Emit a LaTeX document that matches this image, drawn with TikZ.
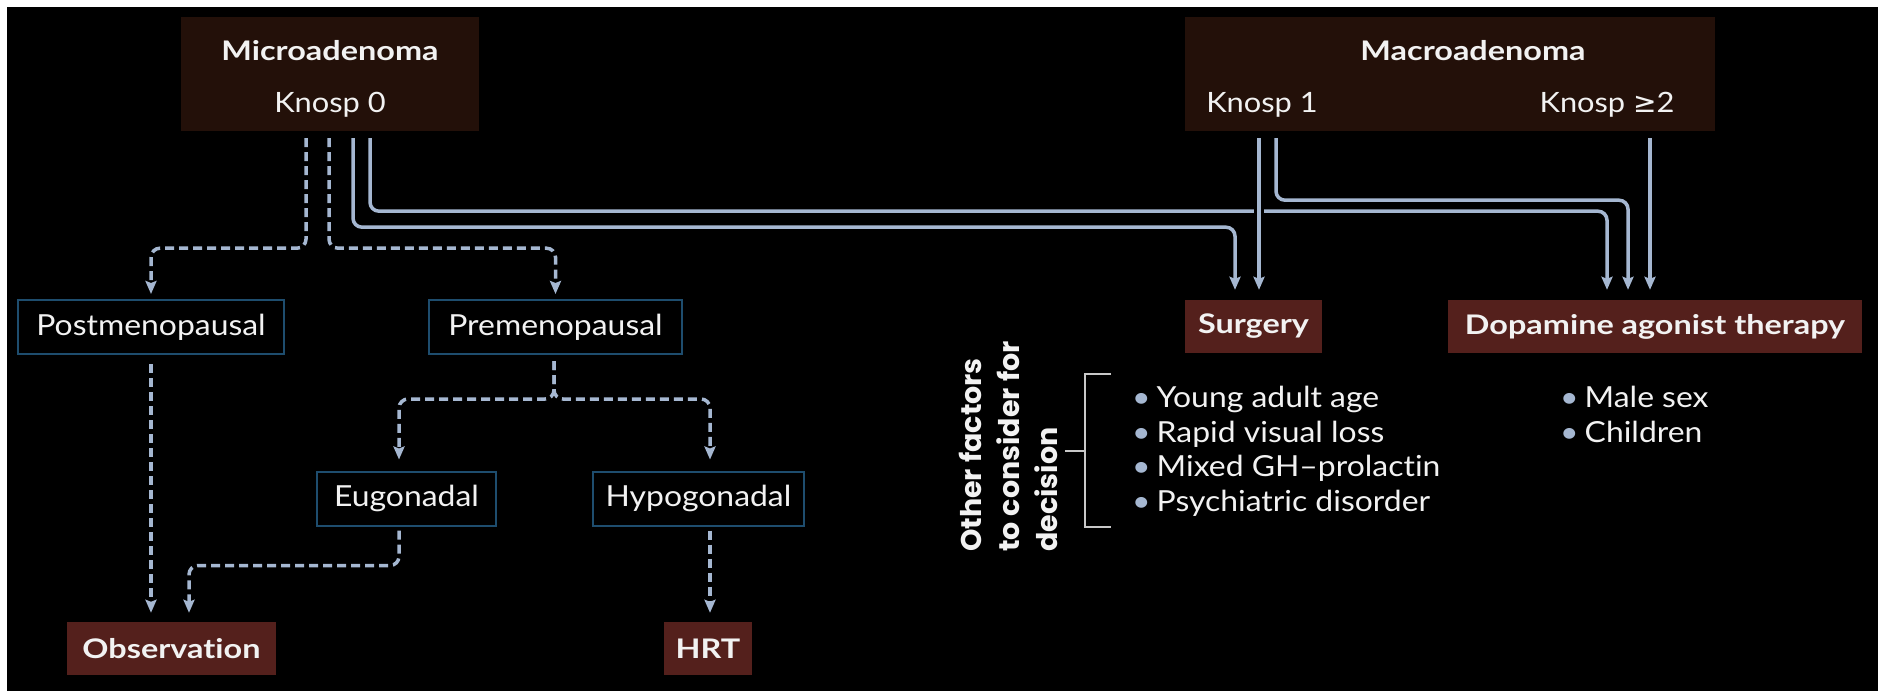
\documentclass[tikz,border=0pt]{standalone}
\usepackage{fontspec}
\setmainfont{Lato}[Ligatures={NoCommon}, FakeStretch=1.1,
  BoldFeatures={FakeStretch=1.2}]
\newfontfamily\sidefont{Poppins}
\newfontfamily\symfont{DejaVu Sans}
\usetikzlibrary{arrows.meta, positioning, calc}

\definecolor{headbrown}{HTML}{231009}
\definecolor{outred}{HTML}{54201C}
\definecolor{boxblue}{HTML}{1E4D6E}
\definecolor{arrowblue}{HTML}{A5B7D1}
\definecolor{txtwhite}{HTML}{F2F2F2}
\definecolor{brackgrey}{HTML}{C8C8C8}

\newcommand{\bul}{\textcolor{arrowblue}{\textbullet}\hspace{6pt}}

\tikzset{
  headbox/.style={fill=headbrown, minimum height=114pt, inner sep=0pt},
  headtxt/.style={text=txtwhite, font=\fontsize{27}{30}\selectfont\bfseries, inner sep=0pt},
  subtxt/.style={text=txtwhite, font=\fontsize{28}{30}\selectfont, inner sep=0pt},
  statbox/.style={draw=boxblue, line width=2pt, fill=black, minimum height=54pt,
    text=txtwhite, font=\fontsize{29}{30}\selectfont, inner sep=0pt},
  outbox/.style={fill=outred, minimum height=53pt, text=txtwhite,
    font=\fontsize{27}{30}\selectfont\bfseries, inner sep=0pt},
  solidarr/.style={draw=arrowblue, line width=3.5pt, rounded corners=9pt,
    -{Stealth[length=13pt, width=11pt, inset=2pt]}, shorten >=10pt},
  dasharr/.style={draw=arrowblue, line width=3.5pt, rounded corners=9pt,
    dash pattern=on 9pt off 5pt,
    -{Stealth[length=13pt, width=11pt, inset=2pt]}, shorten >=9pt},
  brack/.style={draw=brackgrey, line width=2.5pt},
  sidetxt/.style={text=txtwhite, align=left, inner sep=0pt,
    font=\sidefont\fontsize{28.5}{38}\selectfont\bfseries},
  listtxt/.style={text=txtwhite, align=left, inner sep=0pt,
    font=\fontsize{29}{34.5}\selectfont}
}

\begin{document}
\begin{tikzpicture}[x=1pt, y=-1pt]
  \useasboundingbox (0,0) rectangle (1878,691);
  \fill[black] (7,7) rectangle (1878,691);

  % tumour size
  \node[headbox, minimum width=298pt] (micro) at (330,74) {};
  \node[headtxt, anchor=base] (microT) at (330,60) {Microadenoma};
  \node[subtxt, anchor=base] (k0) at (330,112) {Knosp 0};

  \node[headbox, minimum width=530pt] (macro) at (1450,74) {};
  \node[headtxt, anchor=base] (macroT) at (1473,60) {Macroadenoma};
  \node[subtxt, anchor=base] (k1) at (1262,112) {Knosp 1};
  \node[subtxt, anchor=base] (k2) at (1607,112) {Knosp {\symfont ≥}2};

  % patient status
  \node[statbox, minimum width=266pt] (post) at (151,327) {Postmenopausal};
  \node[statbox, minimum width=253pt] (pre) at (555.5,327) {Premenopausal};
  \node[statbox, minimum width=179pt] (eug) at (406.5,498.5) {Eugonadal};
  \node[statbox, minimum width=211pt] (hypo) at (698.5,498.5) {Hypogonadal};

  % outcomes
  \node[outbox, minimum width=209pt] (obs) at (171.5,648.5) {Observation};
  \node[outbox, minimum width=88pt] (hrt) at (708,648.5) {HRT};
  \node[outbox, minimum width=137pt] (surg) at (1253.5,326.5) {Surgery};
  \node[outbox, minimum width=414pt] (dat) at (1655,326.5) {Dopamine agonist therapy};

  % dashed branches
  \draw[dasharr, shorten >=5pt] ($(micro.south)+(-24,7)$) -- ++(0,110) -| (post.north);
  \draw[dasharr, shorten >=5pt] ($(micro.south)+(-1,7)$) -- ++(0,110) -| (pre.north);
  \draw[dasharr, shorten >=11pt] ($(pre.south)+(-1.5,6)$) -- ++(0,38) -| ($(eug.north)+(-7.5,0)$);
  \draw[dasharr, shorten >=11pt] ($(pre.south)+(-1.5,6)$) -- ++(0,38) -| ($(hypo.north)+(11.5,0)$);
  \draw[dasharr] ($(post.south)+(0,9)$) -- ($(obs.north)+(-20.5,0)$);
  \draw[dasharr] ($(eug.south)+(-7.5,4)$) -- ++(0,35) -| ($(obs.north)+(17.5,0)$);
  \draw[dasharr] ($(hypo.south)+(11.5,4)$) -- ($(hrt.north)+(2,0)$);

  % solid branches
  \draw[solidarr] ($(micro.south)+(23,7)$) -- ++(0,89) -| ($(surg.north)+(-18.5,0)$);
  \draw[solidarr] ($(micro.south)+(40,7)$) -- ++(0,73) -| ($(dat.north)+(-48,0)$);
  \draw[solidarr, preaction={draw=black, line width=10pt, -}]
    ($(macro.south)+(-191,7)$) -- ($(surg.north)+(5.5,0)$);
  \draw[solidarr] ($(macro.south)+(-174,7)$) -- ++(0,62) -| ($(dat.north)+(-27,0)$);
  \draw[solidarr] ($(macro.south)+(200,7)$) -- ($(dat.north)+(-5,0)$);

  % other factors
  \node[sidetxt, rotate=90, anchor=west] (other) at (1008,552)
    {Other factors\\to consider for\\decision};
  \draw[brack] (1111,374) -- (1085,374) -- (1085,527) -- (1111,527);
  \draw[brack] (1085,451) -- (1065,451);
  \node[listtxt, anchor=north west] (surgF) at (1132,386)
    {\bul Young adult age\\ \bul Rapid visual loss\\ \bul Mixed GH--prolactin\\ \bul Psychiatric disorder};
  \node[listtxt, anchor=north west] (datF) at (1560,386)
    {\bul Male sex\\ \bul Children};
\end{tikzpicture}
\end{document}
